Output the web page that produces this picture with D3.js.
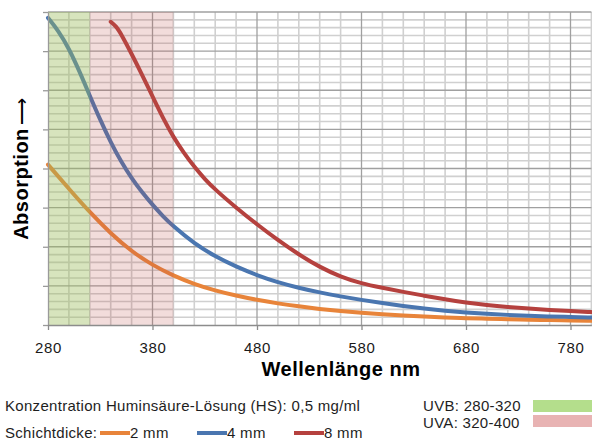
<!DOCTYPE html>
<html>
<head>
<meta charset="utf-8">
<script src="https://cdn.jsdelivr.net/npm/d3@7"></script>
<style>
  body { margin: 0; background: #fff; }
  svg { display: block; font-family: "Liberation Sans", Arial, sans-serif; }
</style>
</head>
<body>
<svg></svg>
<script>
// Absorption curves (arbitrary units, 0..8)
const nm2 = [280, 300, 320, 340, 360, 380, 400, 420, 440, 460, 480, 500, 520, 540, 560, 580, 600, 620, 640, 660, 680, 700, 720, 740, 760, 780, 800];
const abs2 = [4.1, 3.48, 2.88, 2.34, 1.88, 1.53, 1.26, 1.045, 0.88, 0.75, 0.64, 0.55, 0.475, 0.41, 0.355, 0.31, 0.272, 0.242, 0.215, 0.193, 0.175, 0.159, 0.146, 0.135, 0.125, 0.117, 0.11];

const nm4 = [280, 290, 300, 310, 320, 330, 340, 350, 360, 370, 380, 390, 400, 420, 440, 460, 480, 500, 520, 540, 560, 580, 600, 620, 640, 660, 680, 700, 720, 740, 760, 780, 800];
const abs4 = [7.85, 7.52, 7.07, 6.49, 5.86, 5.24, 4.67, 4.17, 3.75, 3.39, 3.07, 2.78, 2.52, 2.08, 1.75, 1.49, 1.27, 1.09, 0.95, 0.83, 0.73, 0.64, 0.56, 0.485, 0.42, 0.365, 0.32, 0.285, 0.258, 0.236, 0.218, 0.204, 0.192];

const nm8 = [340, 345, 350, 360, 370, 380, 390, 400, 410, 420, 430, 440, 460, 480, 500, 520, 540, 560, 580, 600, 620, 640, 660, 680, 700, 720, 740, 760, 780, 800];
const abs8 = [7.75, 7.64, 7.44, 6.93, 6.4, 5.84, 5.29, 4.8, 4.4, 4.04, 3.73, 3.46, 3.0, 2.57, 2.17, 1.8, 1.48, 1.23, 1.06, 0.95, 0.845, 0.75, 0.655, 0.575, 0.51, 0.46, 0.42, 0.385, 0.355, 0.33];

const seriesNames = ["2 mm", "4 mm", "8 mm"];
const seriesColors = ["#e8843a", "#4a76b0", "#b5413e"];

// UV bands
const bandNames = ["UVB: 280-320", "UVA: 320-400"];
const bandRanges = [[280, 320], [320, 400]];
const bandColors = ["#9bbb59", "#c0504d"];
const bandOpacity = [0.4, 0.2];
const bandSwatch = ["#b4de8c", "#e8b3b3"];

const xTicks = [280, 380, 480, 580, 680, 780];

const width = 592;
const height = 440;

const x = d3.scaleLinear([280, 800], [48, 591.4]);
const y = d3.scaleLinear([0, 8], [325, 12]);

const svg = d3.select("svg")
    .attr("width", width)
    .attr("height", height)
    .attr("viewBox", [0, 0, width, height]);

// grid: minor every 20 nm / 0.2, major every 100 nm / 1
const minorX = d3.range(300, 801, 20).filter(v => (v - 280) % 100 !== 0);
const majorX = d3.range(380, 801, 100);
const minorY = d3.range(1, 41).filter(i => i % 5 !== 0).map(i => i / 5);
const majorY = d3.range(1, 9);

const grid = svg.append("g");
grid.selectAll(".mx").data(minorX).join("line")
    .attr("x1", d => x(d)).attr("x2", d => x(d))
    .attr("y1", y(0)).attr("y2", y(8))
    .attr("stroke", "#d0d0d0").attr("stroke-width", 1.6);
grid.selectAll(".my").data(minorY).join("line")
    .attr("x1", x(280)).attr("x2", x(800))
    .attr("y1", d => y(d)).attr("y2", d => y(d))
    .attr("stroke", "#d0d0d0").attr("stroke-width", 1.6);
grid.selectAll(".Mx").data(majorX).join("line")
    .attr("x1", d => x(d)).attr("x2", d => x(d))
    .attr("y1", y(0)).attr("y2", y(8))
    .attr("stroke", "#a0a0a0").attr("stroke-width", 1.3);
grid.selectAll(".My").data(majorY).join("line")
    .attr("x1", x(280)).attr("x2", x(800))
    .attr("y1", d => y(d)).attr("y2", d => y(d))
    .attr("stroke", "#a0a0a0").attr("stroke-width", 1.3);

// curves
const line = d3.line()
    .x(d => x(d[0]))
    .y(d => y(d[1]))
    .curve(d3.curveBasis);

const series = [d3.zip(nm2, abs2), d3.zip(nm4, abs4), d3.zip(nm8, abs8)];
series.forEach((data, i) => {
    svg.append("path")
        .attr("fill", "none")
        .attr("stroke", seriesColors[i])
        .attr("stroke-width", 4)
        .attr("stroke-linecap", "round")
        .attr("d", line(data));
});

// translucent UV bands over the plot
bandRanges.forEach((r, i) => {
    svg.append("rect")
        .attr("x", x(r[0]))
        .attr("y", y(8))
        .attr("width", x(r[1]) - x(r[0]))
        .attr("height", y(0) - y(8))
        .attr("fill", bandColors[i])
        .attr("fill-opacity", bandOpacity[i]);
});

// y axis (no labels)
svg.append("g")
    .attr("transform", `translate(${x(280)},0)`)
    .call(d3.axisLeft(y).tickValues(d3.range(0, 9)).tickSize(5).tickSizeOuter(0).tickFormat(""))
    .call(g => g.selectAll("line, path").attr("stroke", "#9a9a9a").attr("stroke-width", 1.3));

// x axis
svg.append("g")
    .attr("transform", `translate(0,${y(0)})`)
    .call(d3.axisBottom(x).tickValues(xTicks).tickSize(5).tickSizeOuter(0))
    .call(g => g.selectAll("line, path").attr("stroke", "#8c8c8c").attr("stroke-width", 1.3))
    .call(g => g.selectAll("text")
        .attr("y", 28).attr("dy", null)
        .attr("fill", "#1a1a1a")
        .style("font-size", "15px")
        .style("letter-spacing", "0.6px")
        .style("font-family", "'Liberation Sans', Arial, sans-serif"));

// axis titles
svg.append("text")
    .attr("x", 341)
    .attr("y", 376)
    .attr("text-anchor", "middle")
    .attr("font-weight", "bold")
    .attr("font-size", 20)
    .style("letter-spacing", "0.5px")
    .attr("fill", "#000")
    .text("Wellenlänge nm");

const yTitle = svg.append("text")
    .attr("transform", "translate(28,169) rotate(-90)")
    .attr("text-anchor", "middle")
    .attr("fill", "#000");
yTitle.append("tspan")
    .attr("font-weight", "bold")
    .attr("font-size", 20)
    .style("letter-spacing", "0.5px")
    .text("Absorption");
yTitle.append("tspan")
    .attr("font-size", 19)
    .attr("dx", 3)
    .text("⟶");

// legend
const legend = svg.append("g")
    .attr("font-size", 15)
    .attr("fill", "#1e1e1e")
    .style("letter-spacing", "0.3px");

legend.append("text")
    .attr("x", 5).attr("y", 411)
    .text("Konzentration Huminsäure-Lösung (HS): 0,5 mg/ml");

legend.append("text")
    .attr("x", 5).attr("y", 438)
    .text("Schichtdicke:");

const legendX = [100, 197, 294];
seriesNames.forEach((name, i) => {
    legend.append("line")
        .attr("x1", legendX[i]).attr("x2", legendX[i] + 30)
        .attr("y1", 433).attr("y2", 433)
        .attr("stroke", seriesColors[i])
        .attr("stroke-width", 4);
    legend.append("text")
        .attr("x", legendX[i] + 30).attr("y", 438)
        .text(name);
});

const bandY = [411, 428];
bandNames.forEach((name, i) => {
    legend.append("text")
        .attr("x", 423).attr("y", bandY[i])
        .text(name);
    legend.append("rect")
        .attr("x", 533).attr("y", 400 + i * 15)
        .attr("width", 59).attr("height", 12)
        .attr("fill", bandSwatch[i]);
});
</script>
</body>
</html>
